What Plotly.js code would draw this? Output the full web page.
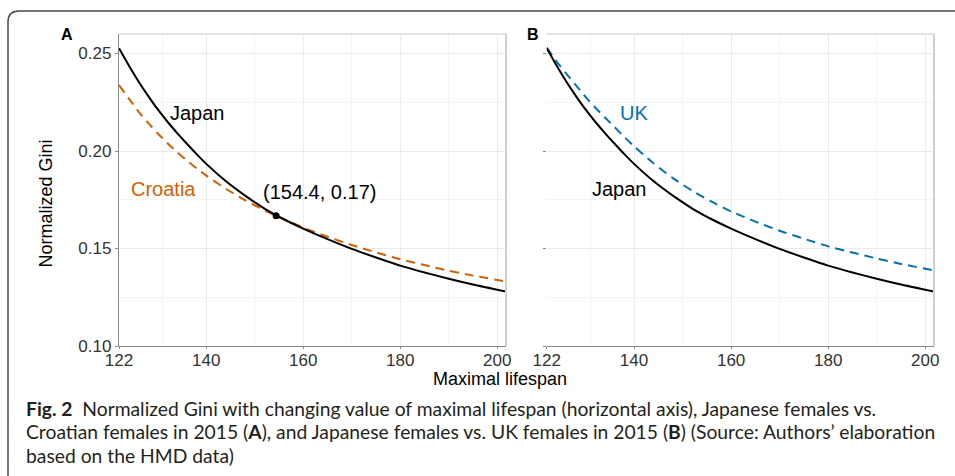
<!DOCTYPE html>
<html>
<head>
<meta charset="utf-8">
<script src="https://cdn.plot.ly/plotly-3.0.1.min.js"></script>
<style>
  html, body { margin: 0; padding: 0; background: #ffffff; }
  #chart { width: 955px; height: 476px; }
</style>
</head>
<body>
<div id="chart"></div>
<script>
// ---- Data ----
const lifespan = [122, 124, 126, 128, 130, 132, 134, 136, 138, 140, 144, 148, 152, 156, 160, 165, 170, 175, 180, 185, 190, 195, 201.8];
const japanGini = [0.2527, 0.2440, 0.2358, 0.2283, 0.2213, 0.2150, 0.2092, 0.2037, 0.1984, 0.1934, 0.1846, 0.1771, 0.1705, 0.1650, 0.1602, 0.1548, 0.1498, 0.1454, 0.1412, 0.1377, 0.1345, 0.1315, 0.1279];
const croatiaGini = [0.2338, 0.2270, 0.2203, 0.2144, 0.2090, 0.2040, 0.1994, 0.1951, 0.1911, 0.1874, 0.1807, 0.1748, 0.1696, 0.1650, 0.1607, 0.1560, 0.1518, 0.1480, 0.1445, 0.1415, 0.1386, 0.1361, 0.1331];
const ukGini = [0.2530, 0.2460, 0.2398, 0.2338, 0.2278, 0.2223, 0.2172, 0.2122, 0.2072, 0.2024, 0.1937, 0.1861, 0.1796, 0.1740, 0.1690, 0.1638, 0.1591, 0.1550, 0.1511, 0.1479, 0.1449, 0.1421, 0.1387];
const crossPoint = { x: [154.4], y: [0.1668] };
const crossLabel = "(154.4, 0.17)";
const xTicks = [122, 140, 160, 180, 200];
const xMinor = [131, 150, 170, 190];
const yTicks = [0.10, 0.15, 0.20, 0.25];
const yTickText = ["0.10", "0.15", "0.20", "0.25"];
const yMinor = [0.125, 0.175, 0.225];
const captionLines = [
  "<b>Fig. 2</b>\u00a0 Normalized Gini with changing value of maximal lifespan (horizontal axis), Japanese females vs.",
  "Croatian females in 2015 (<b>A</b>), and Japanese females vs. UK females in 2015 (<b>B</b>) (Source: Authors\u2019 elaboration",
  "based on the HMD data)"
];

// ---- Styling ----
const W = 955, H = 476;
const FONT = "Liberation Sans, Arial, Helvetica, sans-serif";
const CAPFONT = "Lato, Open Sans, sans-serif";
const px = v => v / W;
const py = v => 1 - v / H;
const orange = "#D55E00";
const blue = "#0072B2";
const gridMajor = "#EBEBEB";
const gridMinor = "#F4F4F4";
const axisLine = "#8A8A8A";
const tickColor = "#333333";

const traces = [
  { x: lifespan, y: croatiaGini, xaxis: "x", yaxis: "y", mode: "lines", line: { color: orange, width: 2, dash: "9px,6px", shape: "spline", smoothing: 0.6 }, hoverinfo: "skip" },
  { x: lifespan, y: japanGini, xaxis: "x", yaxis: "y", mode: "lines", line: { color: "#000000", width: 2, shape: "spline", smoothing: 0.6 }, hoverinfo: "skip" },
  { x: crossPoint.x, y: crossPoint.y, xaxis: "x", yaxis: "y", mode: "markers", marker: { color: "#000000", size: 7 }, hoverinfo: "skip" },
  { x: lifespan, y: ukGini, xaxis: "x2", yaxis: "y2", mode: "lines", line: { color: blue, width: 2, dash: "9px,6px", shape: "spline", smoothing: 0.6 }, hoverinfo: "skip" },
  { x: lifespan, y: japanGini, xaxis: "x2", yaxis: "y2", mode: "lines", line: { color: "#000000", width: 2, shape: "spline", smoothing: 0.6 }, hoverinfo: "skip" }
];

function xAxis(domain) {
  return {
    domain: domain, range: [122, 201.8], tickvals: xTicks, ticktext: xTicks.map(String),
    showgrid: true, gridcolor: gridMajor, gridwidth: 1,
    minor: { tickvals: xMinor, showgrid: true, gridcolor: gridMinor, gridwidth: 1, ticks: "" },
    showline: true, linecolor: axisLine, linewidth: 1.2,
    ticks: "outside", ticklen: 2, tickcolor: axisLine, tickwidth: 1,
    ticklabelstandoff: -4,
    tickfont: { family: FONT, size: 17, color: tickColor },
    zeroline: false, fixedrange: true
  };
}
function yAxis(showLabels, showLine) {
  return {
    domain: [py(346), py(34)], range: [0.10, 0.26], tickvals: yTicks, ticktext: yTickText,
    showticklabels: showLabels,
    showgrid: true, gridcolor: gridMajor, gridwidth: 1,
    minor: { tickvals: yMinor, showgrid: true, gridcolor: gridMinor, gridwidth: 1, ticks: "" },
    showline: showLine, linecolor: axisLine, linewidth: 1.2,
    ticks: "outside", ticklen: 3, tickcolor: axisLine, tickwidth: 1,
    tickfont: { family: FONT, size: 17, color: tickColor },
    zeroline: false, fixedrange: true
  };
}

function panelBorder(xr, yr) {
  return [
    { type: "line", xref: xr + " domain", yref: yr + " domain", x0: 0, x1: 1, y0: 1, y1: 1, line: { color: "#DCDCDC", width: 1.5 } },
    { type: "line", xref: xr + " domain", yref: yr + " domain", x0: 1, x1: 1, y0: 0, y1: 1, line: { color: "#D0D0D0", width: 2 } }
  ];
}

const framePath = `M ${px(8)},${py(490)} L ${px(8)},${py(22)} Q ${px(8)},${py(11)} ${px(19)},${py(11)} L ${px(965)},${py(11)}`;

function note(xref, yref, x, y, text, size, color, extra) {
  return Object.assign({ xref: xref, yref: yref, x: x, y: y, text: text, showarrow: false,
    xanchor: "center", yanchor: "middle", font: { family: FONT, size: size, color: color } }, extra || {});
}

const annotations = [
  note("x", "y", 138.2, 0.2194, "Japan", 20, "#000000"),
  note("x", "y", 131.1, 0.1803, "Croatia", 20, orange),
  note("x", "y", 163.4, 0.1790, crossLabel, 20, "#000000"),
  note("x2", "y2", 140.0, 0.2197, "UK", 20, blue),
  note("x2", "y2", 136.9, 0.1803, "Japan", 20, "#000000"),
  note("paper", "paper", px(67), py(35), "<b>A</b>", 16, "#000000"),
  note("paper", "paper", px(532.5), py(35), "<b>B</b>", 16, "#000000"),
  note("paper", "paper", px(500), py(379), "Maximal lifespan", 18, "#000000"),
  note("paper", "paper", px(45), py(203.5), "Normalized Gini", 18, "#000000", { textangle: -90 })
];
const captionY = [408, 431.5, 455];
captionLines.forEach((t, i) => {
  annotations.push({ xref: "paper", yref: "paper", x: px(24), y: py(captionY[i]), xanchor: "left", yanchor: "middle", text: t, showarrow: false, font: { family: CAPFONT, size: 19.3, color: "#231F20" } });
});

const layout = {
  width: W, height: H,
  margin: { l: 0, r: 0, t: 0, b: 0, pad: 0 },
  paper_bgcolor: "#ffffff", plot_bgcolor: "#ffffff",
  showlegend: false,
  font: { family: FONT },
  xaxis: xAxis([px(119), px(506)]),
  yaxis: yAxis(true, true),
  xaxis2: xAxis([px(546.7), px(934)]),
  yaxis2: yAxis(false, false),
  annotations: annotations,
  shapes: [
    ...panelBorder("x", "y"),
    ...panelBorder("x2", "y2"),
    { type: "path", xref: "paper", yref: "paper", path: framePath, line: { color: "#4A4A4A", width: 1.5 } }
  ]
};
layout.yaxis2.anchor = "x2";
layout.xaxis2.anchor = "y2";
layout.yaxis.anchor = "x";
layout.xaxis.anchor = "y";

Plotly.newPlot("chart", traces, layout, { staticPlot: true, displayModeBar: false });
</script>
</body>
</html>
